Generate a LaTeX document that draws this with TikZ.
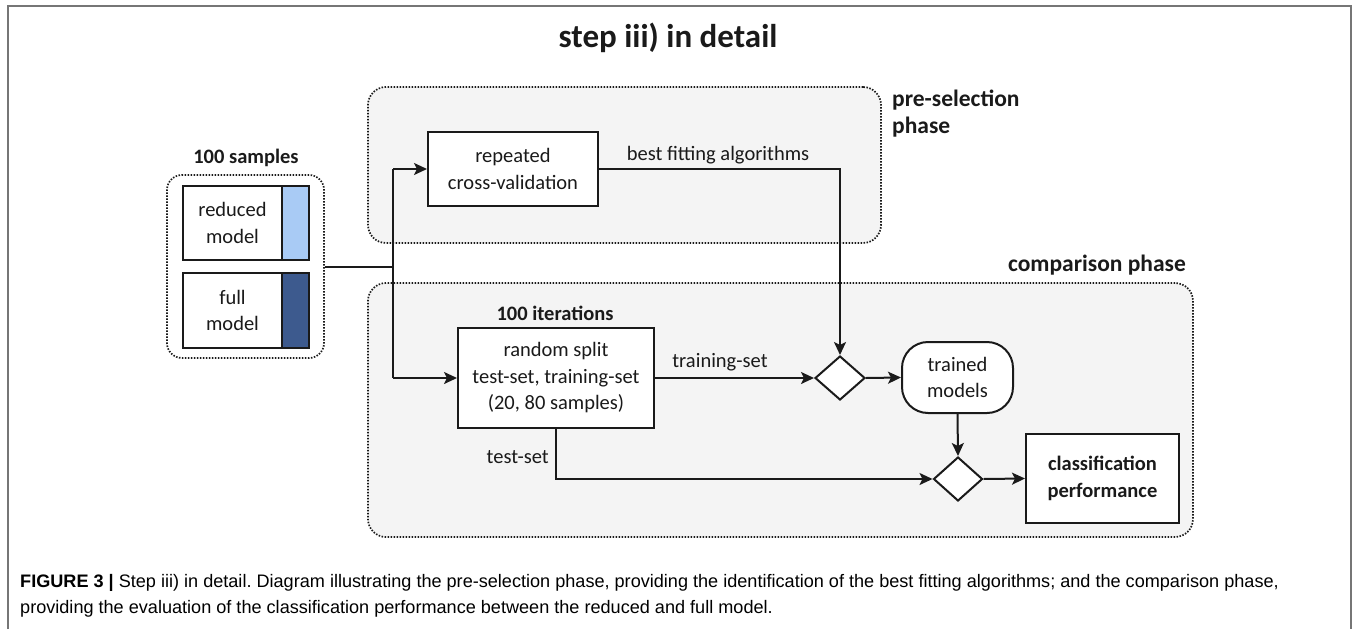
\documentclass[tikz,border=0pt]{standalone}
\usepackage{fontspec}
\setmainfont{Carlito}
\newfontfamily\capfont{Liberation Sans}
\usetikzlibrary{arrows.meta,shapes.geometric}
\definecolor{phasefill}{HTML}{F4F4F4}
\definecolor{lightbl}{HTML}{A9CBF5}
\definecolor{darkbl}{HTML}{3D5A8E}
\definecolor{framegray}{HTML}{767676}
\definecolor{ink}{HTML}{1A1A1A}
\frenchspacing
\begin{document}
\begin{tikzpicture}[x=1pt,y=-1pt,
  txt/.style={font=\fontsize{20.5}{26.5}\selectfont, align=center, inner sep=0pt, text=ink},
  btxt/.style={txt, font=\fontsize{20.5}{26.5}\selectfont\bfseries},
  phlab/.style={txt, font=\fontsize{23.5}{27}\selectfont\bfseries},
  boxn/.style={draw=ink, line width=2pt, fill=white, inner sep=0pt, txt},
  phasebox/.style={draw=ink, line width=1.7pt, dash pattern=on 1.5pt off 1.5pt, rounded corners=18pt, fill=phasefill, inner sep=0pt},
  conn/.style={line width=2pt, draw=ink},
  arr/.style={conn, -{Stealth[length=13pt,width=12pt,inset=3pt]}},
  dia/.style={diamond, draw=ink, line width=2pt, fill=white, inner sep=0pt}]
\useasboundingbox (0,0) rectangle (1354,629);
% frame
\draw[framegray, line width=2pt] (8,629) -- (8,6) -- (1351,6) -- (1351,629);
% title
\node[anchor=base, text=ink, inner sep=0pt] (title) at (668,47) {\fontsize{33}{40}\selectfont\bfseries step iii) in detail};
% phase boxes
\node[phasebox, minimum width=513pt, minimum height=156pt] (pre) at (624.5,165) {};
\node[phasebox, minimum width=825pt, minimum height=254pt] (comp) at (780.5,410) {};
\node[phlab, anchor=west, align=left] (prelab) at (892,113.5) {pre-selection\\phase};
\node[phlab, anchor=east] (complab) at (1186,265) {comparison phase};
% samples
\node[phasebox, fill=white, rounded corners=15pt, minimum width=157pt, minimum height=183pt] (samples) at (245.5,266.5) {};
\node[btxt] (samplab) at (246,158) {100 samples};
\node[boxn, minimum width=126pt, minimum height=74pt] (red) at (246,223) {};
\draw[ink, line width=2pt, fill=lightbl] (282,186) rectangle (309,260);
\node[txt] (redt) at (232.5,223) {reduced\\model};
\node[boxn, minimum width=126pt, minimum height=75pt] (full) at (246,310.5) {};
\draw[ink, line width=2pt, fill=darkbl] (282,273) rectangle (309,348);
\node[txt] (fullt) at (232.5,310.5) {full\\model};
% process nodes
\node[boxn, minimum width=170pt, minimum height=74pt] (rep) at (513,169) {repeated\\cross-validation};
\node[boxn, minimum width=196pt, minimum height=100pt] (split) at (556,378) {random split\\test-set, training-set\\(20, 80 samples)};
\node[btxt] (iterlab) at (555,313) {100 iterations};
\node[dia, minimum width=50pt, minimum height=44pt] (d1) at (840,378) {};
\node[boxn, rounded corners=26pt, minimum width=111pt, minimum height=71pt] (tm) at (957.5,377.5) {trained\\models};
\node[dia, minimum width=49pt, minimum height=44pt] (d2) at (958,479) {};
\node[boxn, minimum width=153pt, minimum height=89pt, font=\fontsize{20.5}{26.5}\selectfont\bfseries] (cls) at (1102.5,478.5) {classification\\performance};
% connectors
\coordinate (j) at (393,266.5);
\coordinate (jt) at (393,169);
\coordinate (jb) at (393,378);
\draw[conn] (samples.east) -- (j);
\draw[conn] (jt) -- (jb);
\draw[arr] (jt) -- (rep.west);
\draw[arr] (jb) -- (split.west);
\draw[arr] (rep.east) -| (d1.north);
\draw[arr] (split.east) -- (d1.west);
\draw[arr] (d1.east) -- (tm.west);
\draw[arr] (tm.south) -- (d2.north);
\draw[arr] (split.south) |- (d2.west);
\draw[arr] (d2.east) -- (cls.west);
% connector labels
\node[txt] (bfa) at (718,155) {best fitting algorithms};
\node[txt] (trs) at (720,362) {training-set};
\node[txt, anchor=east] (tss) at (549,457) {test-set};
% caption
\node[anchor=base west, inner sep=0pt, font=\capfont\fontsize{18.1}{23}\selectfont] (cap1) at (20,587) {\textbf{FIGURE 3 |} Step iii) in detail. Diagram illustrating the pre-selection phase, providing the identification of the best fitting algorithms; and the comparison phase,};
\node[anchor=base west, inner sep=0pt, font=\capfont\fontsize{18.1}{23}\selectfont] (cap2) at (20,613) {providing the evaluation of the classification performance between the reduced and full model.};
\end{tikzpicture}
\end{document}
